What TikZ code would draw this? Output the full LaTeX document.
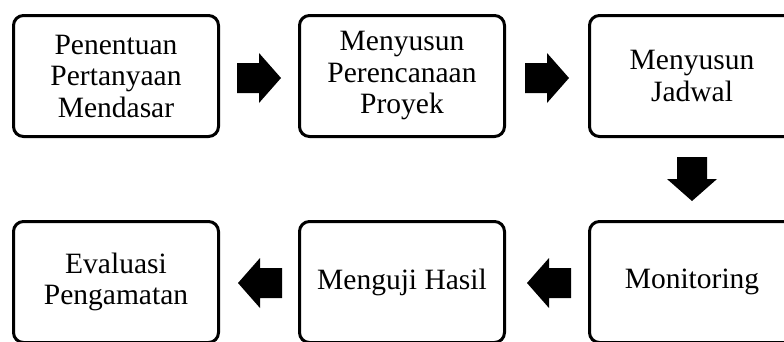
\documentclass[tikz,border=0pt]{standalone}
\usepackage{fontspec}
\setmainfont{Liberation Serif}
\usetikzlibrary{calc}
\begin{document}
\begin{tikzpicture}[x=1pt,y=-1pt,
 stepbox/.style={draw, line width=3pt, rounded corners=10pt, minimum width=205pt, minimum height=121pt, align=center, font=\fontsize{29.5}{31.5}\selectfont, inner sep=0pt},
 blockarr/.pic={\fill (-22,-15) -- (0,-15) -- (0,-25) -- (22,0) -- (0,25) -- (0,15) -- (-22,15) -- cycle;}]
\useasboundingbox (0,0) rectangle (784,341);
\clip (0,0) rectangle (784,341);
\node[stepbox] (a) at (116,76) {Penentuan\\Pertanyaan\\Mendasar};
\node[stepbox] (b) at (402,76) {Menyusun\\Perencanaan\\Proyek};
\node[stepbox] (c) at (692,76) {Menyusun\\Jadwal};
\node[stepbox] (f) at (692,282) {Monitoring};
\node[stepbox] (e) at (402,282) {Menguji Hasil};
\node[stepbox] (d) at (116,282) {Evaluasi\\Pengamatan};
\pic at ($(a.east)!0.5!(b.west)+(0,2)$) {blockarr};
\pic at ($(b.east)!0.5!(c.west)+(0,2)$) {blockarr};
\pic[rotate=-90] at ($(c.south)!0.5!(f.north)$) {blockarr};
\pic[rotate=180] at ($(f.west)!0.5!(e.east)+(2,1)$) {blockarr};
\pic[rotate=180] at ($(e.west)!0.5!(d.east)+(1,1)$) {blockarr};
\end{tikzpicture}
\end{document}
